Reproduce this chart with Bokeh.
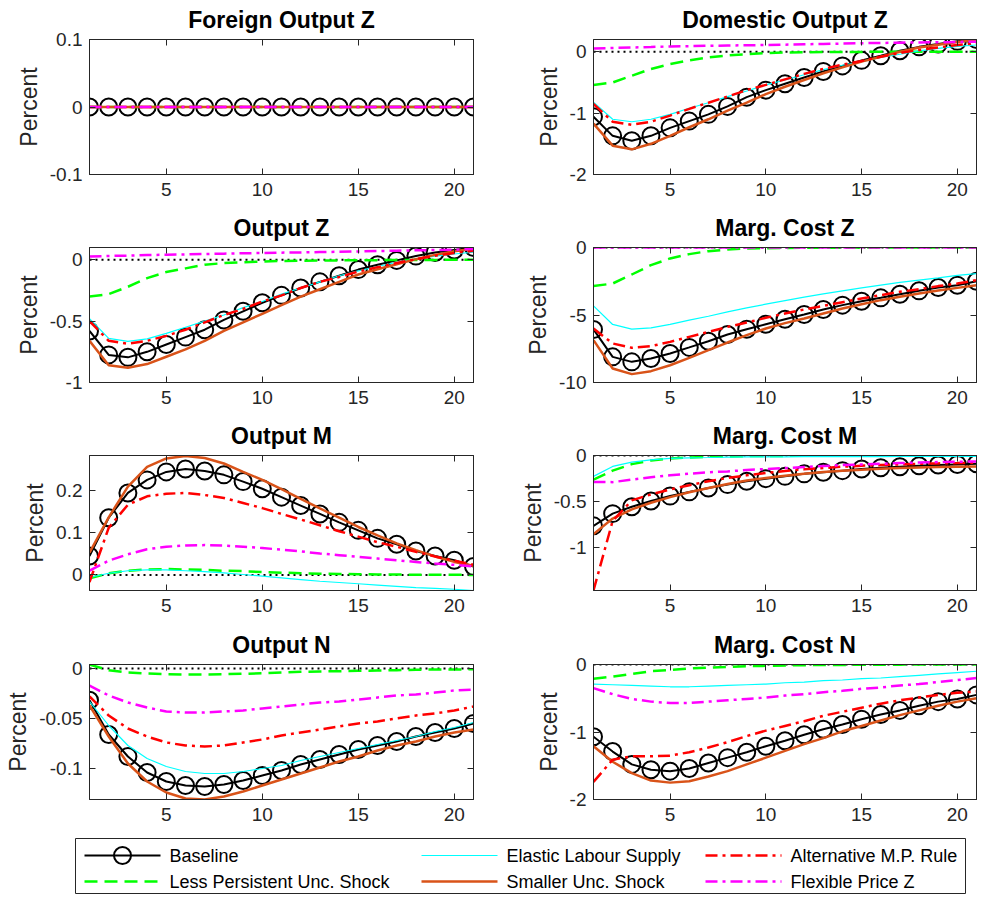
from bokeh.plotting import figure
from bokeh.layouts import column, row
from bokeh.models import Range1d, FixedTicker, LinearAxis, Span, CustomLabelingPolicy
from bokeh.core.properties import value
from bokeh.embed import file_html
from bokeh.resources import INLINE

# ---------------------------------------------------------------- data
horizon = list(range(1, 22))

scenarios = ["Baseline", "Less Persistent Unc. Shock", "Elastic Labour Supply",
             "Smaller Unc. Shock", "Alternative M.P. Rule", "Flexible Price Z"]

# Foreign Output Z: no response in any scenario
foreign_z_all = [0, 0, 0, 0, 0, 0, 0, 0, 0, 0, 0, 0, 0, 0, 0, 0, 0, 0, 0, 0, 0]

# Domestic Output Z
dom_z_base = [-1.06, -1.37, -1.45, -1.37, -1.24, -1.13, -1.02, -0.89, -0.74, -0.625, -0.52,
              -0.42, -0.32, -0.23, -0.14, -0.065, 0.016, 0.08, 0.125, 0.17, 0.2]
dom_z_lessp = [-0.54, -0.50, -0.39, -0.28, -0.2, -0.14, -0.09, -0.06, -0.04, -0.02, -0.012,
               -0.008, -0.005, -0.003, -0.002, -0.001, 0, 0, 0, 0, 0]
dom_z_elastic = [-0.82, -1.10, -1.14, -1.10, -1.02, -0.92, -0.83, -0.73, -0.64, -0.54, -0.46,
                 -0.375, -0.29, -0.22, -0.16, -0.09, -0.04, 0.016, 0.054, 0.087, 0.11]
dom_z_smaller = [-1.17, -1.53, -1.59, -1.5, -1.37, -1.23, -1.10, -0.96, -0.83, -0.69, -0.57,
                 -0.46, -0.35, -0.255, -0.16, -0.08, 0.0, 0.07, 0.115, 0.16, 0.19]
dom_z_altmp = [-0.85, -1.14, -1.19, -1.14, -1.04, -0.93, -0.83, -0.73, -0.625, -0.54, -0.45,
               -0.36, -0.28, -0.21, -0.15, -0.08, -0.02, 0.03, 0.07, 0.11, 0.14]
dom_z_flex = [0.054, 0.062, 0.07, 0.078, 0.087, 0.092, 0.097, 0.102, 0.106, 0.11, 0.116,
              0.122, 0.128, 0.134, 0.14, 0.144, 0.148, 0.152, 0.156, 0.16, 0.165]

# Output Z
out_z_base = [-0.58, -0.775, -0.795, -0.75, -0.69, -0.63, -0.57, -0.49, -0.42, -0.35, -0.29,
              -0.23, -0.18, -0.13, -0.08, -0.04, -0.005, 0.03, 0.06, 0.08, 0.1]
out_z_lessp = [-0.30, -0.28, -0.22, -0.15, -0.1, -0.07, -0.04, -0.027, -0.02, -0.014, -0.01,
               -0.008, -0.006, -0.005, -0.004, -0.003, -0.002, -0.001, -0.001, 0, 0]
out_z_elastic = [-0.48, -0.64, -0.665, -0.645, -0.6, -0.55, -0.5, -0.45, -0.39, -0.34, -0.28,
                 -0.23, -0.18, -0.13, -0.09, -0.055, -0.02, 0.005, 0.03, 0.047, 0.063]
out_z_smaller = [-0.66, -0.86, -0.88, -0.85, -0.79, -0.73, -0.66, -0.58, -0.51, -0.44, -0.37,
                 -0.30, -0.24, -0.18, -0.12, -0.077, -0.036, 0.005, 0.04, 0.07, 0.09]
out_z_altmp = [-0.5, -0.66, -0.685, -0.66, -0.62, -0.57, -0.51, -0.45, -0.40, -0.34, -0.29,
               -0.23, -0.18, -0.14, -0.096, -0.06, -0.027, 0.005, 0.033, 0.055, 0.074]
out_z_flex = [0.027, 0.031, 0.034, 0.038, 0.041, 0.044, 0.047, 0.050, 0.053, 0.055, 0.058,
              0.060, 0.063, 0.065, 0.068, 0.071, 0.074, 0.077, 0.079, 0.082, 0.088]

# Marginal cost Z
mc_z_base = [-6.07, -8.1, -8.47, -8.22, -7.85, -7.4, -6.94, -6.44, -6.05, -5.68, -5.31,
             -4.96, -4.59, -4.27, -3.98, -3.73, -3.46, -3.21, -2.96, -2.79, -2.5]
mc_z_lessp = [-2.86, -2.67, -2.0, -1.31, -0.81, -0.49, -0.27, -0.15, -0.07, -0.05, -0.03,
              -0.02, -0.015, -0.01, -0.008, -0.006, -0.004, -0.003, -0.002, -0.001, 0]
mc_z_elastic = [-4.32, -5.7, -6.05, -5.95, -5.7, -5.38, -5.09, -4.77, -4.47, -4.2, -3.93,
                -3.68, -3.43, -3.21, -2.99, -2.79, -2.59, -2.42, -2.25, -2.07, -1.93]
mc_z_smaller = [-6.86, -8.96, -9.38, -9.16, -8.72, -8.17, -7.6, -7.04, -6.49, -6.0, -5.6,
                -5.26, -4.89, -4.52, -4.2, -3.9, -3.65, -3.41, -3.19, -2.99, -2.79]
mc_z_altmp = [-6.0, -7.11, -7.43, -7.31, -6.99, -6.62, -6.25, -5.88, -5.56, -5.21, -4.89,
              -4.59, -4.32, -4.05, -3.78, -3.53, -3.28, -3.09, -2.86, -2.67, -2.42]
mc_z_flex = [0, 0, 0, 0, 0, 0, 0, 0, 0, 0, 0, 0, 0, 0, 0, 0, 0, 0, 0, 0, 0]

# Output M
out_m_base = [0.045, 0.136, 0.195, 0.226, 0.245, 0.252, 0.247, 0.238, 0.222, 0.205, 0.185,
              0.165, 0.145, 0.125, 0.106, 0.087, 0.073, 0.057, 0.045, 0.035, 0.02]
out_m_lessp = [-0.008, 0.004, 0.01, 0.013, 0.014, 0.013, 0.012, 0.01, 0.009, 0.007, 0.0055,
               0.004, 0.003, 0.0025, 0.0017, 0.0012, 0.0009, 0.0006, 0.0004, 0.0002, 0.0001]
out_m_elastic = [-0.006, 0.004, 0.01, 0.012, 0.012, 0.01, 0.008, 0.005, 0.001, -0.003, -0.007,
                 -0.011, -0.015, -0.018, -0.021, -0.024, -0.027, -0.03, -0.032, -0.034, -0.037]
out_m_smaller = [0.053, 0.137, 0.21, 0.257, 0.277, 0.283, 0.278, 0.265, 0.245, 0.226, 0.204,
                 0.181, 0.158, 0.136, 0.114, 0.094, 0.075, 0.059, 0.044, 0.031, 0.022]
out_m_altmp = [-0.017, 0.112, 0.167, 0.187, 0.193, 0.195, 0.19, 0.183, 0.171, 0.159, 0.145,
               0.132, 0.118, 0.104, 0.091, 0.078, 0.067, 0.055, 0.044, 0.034, 0.024]
out_m_flex = [0.01, 0.034, 0.049, 0.061, 0.067, 0.07, 0.071, 0.07, 0.067, 0.064, 0.06,
              0.056, 0.051, 0.047, 0.043, 0.039, 0.035, 0.031, 0.027, 0.024, 0.02]

# Marginal cost M
mc_m_base = [-0.766, -0.633, -0.558, -0.496, -0.442, -0.396, -0.353, -0.317, -0.28, -0.252, -0.227,
             -0.2, -0.183, -0.165, -0.147, -0.133, -0.122, -0.111, -0.104, -0.097, -0.09]
mc_m_lessp = [-0.263, -0.165, -0.094, -0.054, -0.032, -0.022, -0.014, -0.011, -0.007, -0.005, -0.004,
              -0.003, -0.002, -0.002, -0.001, -0.001, -0.001, 0, 0, 0, 0]
mc_m_elastic = [-0.227, -0.119, -0.072, -0.047, -0.032, -0.025, -0.022, -0.018, -0.016, -0.015, -0.014,
                -0.013, -0.013, -0.012, -0.012, -0.012, -0.011, -0.011, -0.011, -0.011, -0.011]
mc_m_smaller = [-0.856, -0.687, -0.586, -0.514, -0.453, -0.4, -0.353, -0.31, -0.273, -0.245, -0.22,
                -0.198, -0.18, -0.165, -0.155, -0.144, -0.137, -0.13, -0.126, -0.122, -0.119]
mc_m_altmp = [-1.47, -0.712, -0.489, -0.424, -0.37, -0.324, -0.28, -0.245, -0.216, -0.19, -0.169,
              -0.151, -0.137, -0.122, -0.111, -0.104, -0.097, -0.09, -0.086, -0.083, -0.079]
mc_m_flex = [-0.288, -0.29, -0.263, -0.237, -0.216, -0.198, -0.183, -0.173, -0.158, -0.147, -0.137,
             -0.126, -0.115, -0.104, -0.097, -0.09, -0.083, -0.076, -0.072, -0.068, -0.065]

# Output N
out_n_base = [-0.0317, -0.066, -0.088, -0.104, -0.113, -0.117, -0.118, -0.116, -0.112, -0.107, -0.102,
              -0.096, -0.091, -0.086, -0.081, -0.077, -0.073, -0.068, -0.064, -0.06, -0.055]
out_n_lessp = [0.004, -0.0017, -0.004, -0.005, -0.0057, -0.006, -0.006, -0.0057, -0.0053, -0.0047, -0.004,
               -0.0033, -0.003, -0.0027, -0.0023, -0.002, -0.0017, -0.0013, -0.001, -0.001, -0.0007]
out_n_elastic = [-0.033, -0.057, -0.077, -0.09, -0.098, -0.103, -0.105, -0.105, -0.103, -0.1, -0.097,
                 -0.092, -0.088, -0.084, -0.08, -0.076, -0.072, -0.068, -0.063, -0.059, -0.054]
out_n_smaller = [-0.037, -0.068, -0.095, -0.113, -0.124, -0.13, -0.131, -0.128, -0.123, -0.117, -0.111,
                 -0.105, -0.099, -0.093, -0.088, -0.082, -0.077, -0.073, -0.068, -0.064, -0.061]
out_n_altmp = [-0.028, -0.047, -0.06, -0.068, -0.074, -0.077, -0.078, -0.077, -0.074, -0.071, -0.067,
               -0.064, -0.061, -0.058, -0.055, -0.053, -0.05, -0.047, -0.045, -0.042, -0.038]
out_n_flex = [-0.017, -0.027, -0.034, -0.039, -0.043, -0.044, -0.044, -0.043, -0.042, -0.04, -0.038,
              -0.036, -0.034, -0.033, -0.031, -0.029, -0.027, -0.026, -0.024, -0.022, -0.021]

# Marginal cost N
mc_n_base = [-1.07, -1.29, -1.48, -1.56, -1.58, -1.54, -1.46, -1.38, -1.30, -1.21, -1.13,
             -1.04, -0.96, -0.89, -0.81, -0.74, -0.68, -0.61, -0.55, -0.51, -0.45]
mc_n_lessp = [-0.21, -0.18, -0.14, -0.10, -0.08, -0.06, -0.045, -0.035, -0.025, -0.02, -0.015,
              -0.01, -0.008, -0.006, -0.004, -0.003, -0.002, -0.001, -0.001, 0, 0]
mc_n_elastic = [-0.29, -0.30, -0.31, -0.32, -0.33, -0.33, -0.32, -0.31, -0.30, -0.29, -0.27,
                -0.26, -0.24, -0.23, -0.21, -0.20, -0.18, -0.16, -0.14, -0.12, -0.10]
mc_n_smaller = [-1.21, -1.44, -1.61, -1.72, -1.75, -1.73, -1.66, -1.58, -1.48, -1.38, -1.28,
                -1.18, -1.09, -0.99, -0.91, -0.83, -0.75, -0.68, -0.61, -0.55, -0.5]
mc_n_altmp = [-1.74, -1.41, -1.36, -1.36, -1.35, -1.30, -1.23, -1.15, -1.06, -0.98, -0.91,
              -0.84, -0.76, -0.70, -0.64, -0.58, -0.53, -0.49, -0.45, -0.42, -0.40]
mc_n_flex = [-0.35, -0.44, -0.51, -0.55, -0.57, -0.57, -0.55, -0.53, -0.51, -0.49, -0.46,
             -0.44, -0.41, -0.39, -0.36, -0.34, -0.31, -0.29, -0.26, -0.23, -0.2]

# tick values and their labels for each panel's vertical axis
foreign_z_ticks, foreign_z_labels = [-0.1, 0, 0.1], ["-0.1", "0", "0.1"]
dom_z_ticks, dom_z_labels = [-2, -1, 0], ["-2", "-1", "0"]
out_z_ticks, out_z_labels = [-1, -0.5, 0], ["-1", "-0.5", "0"]
mc_z_ticks, mc_z_labels = [-10, -5, 0], ["-10", "-5", "0"]
out_m_ticks, out_m_labels = [0, 0.1, 0.2], ["0", "0.1", "0.2"]
mc_m_ticks, mc_m_labels = [-1, -0.5, 0], ["-1", "-0.5", "0"]
out_n_ticks, out_n_labels = [-0.1, -0.05, 0], ["-0.1", "-0.05", "0"]
mc_n_ticks, mc_n_labels = [-2, -1, 0], ["-2", "-1", "0"]
x_ticks, x_labels = [5, 10, 15, 20], ["5", "10", "15", "20"]

panels = [
    ("Foreign Output Z", [foreign_z_all] * 6, (-0.1, 0.1), foreign_z_ticks, foreign_z_labels),
    ("Domestic Output Z", [dom_z_base, dom_z_lessp, dom_z_elastic, dom_z_smaller, dom_z_altmp, dom_z_flex],
     (-2, 0.2), dom_z_ticks, dom_z_labels),
    ("Output Z", [out_z_base, out_z_lessp, out_z_elastic, out_z_smaller, out_z_altmp, out_z_flex],
     (-1, 0.1), out_z_ticks, out_z_labels),
    ("Marg. Cost Z", [mc_z_base, mc_z_lessp, mc_z_elastic, mc_z_smaller, mc_z_altmp, mc_z_flex],
     (-10, 0), mc_z_ticks, mc_z_labels),
    ("Output M", [out_m_base, out_m_lessp, out_m_elastic, out_m_smaller, out_m_altmp, out_m_flex],
     (-0.037, 0.284), out_m_ticks, out_m_labels),
    ("Marg. Cost M", [mc_m_base, mc_m_lessp, mc_m_elastic, mc_m_smaller, mc_m_altmp, mc_m_flex],
     (-1.47, 0), mc_m_ticks, mc_m_labels),
    ("Output N", [out_n_base, out_n_lessp, out_n_elastic, out_n_smaller, out_n_altmp, out_n_flex],
     (-0.131, 0.004), out_n_ticks, out_n_labels),
    ("Marg. Cost N", [mc_n_base, mc_n_lessp, mc_n_elastic, mc_n_smaller, mc_n_altmp, mc_n_flex],
     (-2, 0), mc_n_ticks, mc_n_labels),
]

# ---------------------------------------------------------------- styles
FONT = "Liberation Sans"
AXIS_COLOR = "#262626"

line_styles = [
    dict(line_color="black", line_width=2, line_dash="solid"),
    dict(line_color="#00FF00", line_width=2.5, line_dash="13 7"),
    dict(line_color="#00FFFF", line_width=1.2, line_dash="solid"),
    dict(line_color="#D95319", line_width=2.5, line_dash="solid"),
    dict(line_color="#FF0000", line_width=2.5, line_dash="12 5 3 5"),
    dict(line_color="#FF00FF", line_width=2.5, line_dash="12 5 3 5"),
]
MARKER_SIZE = 17

# secondary (box) axes carry tick marks only: drop every label before drawing
NO_LABELS = CustomLabelingPolicy(code="""
for (const i of indices) { indices.unset(i) }
return indices
""")


def style_axis(ax, ticks, labels, show_labels=True):
    ax.ticker = FixedTicker(ticks=ticks)
    ax.major_tick_in = 6
    ax.major_tick_out = 0
    ax.minor_tick_in = 0
    ax.minor_tick_out = 0
    ax.axis_line_color = AXIS_COLOR
    ax.major_tick_line_color = AXIS_COLOR
    ax.major_label_text_color = AXIS_COLOR
    ax.major_label_text_font = FONT
    if show_labels:
        ax.major_label_text_font_size = "19px"
        ax.major_label_overrides = {t: s for t, s in zip(ticks, labels)}
    else:
        ax.major_label_text_font_size = "1px"
        ax.major_label_standoff = 0
        ax.major_label_policy = NO_LABELS


def make_panel(title, series, ylim, yticks, ylabels, left_col, top_border):
    if left_col:
        width, b_left, b_right = 490, 89, 17
    else:
        width, b_left, b_right = 494, 103, 8
    p = figure(width=width, height=208, x_range=Range1d(1, 21), y_range=Range1d(*ylim),
               toolbar_location=None, output_backend="svg",
               min_border_left=b_left, min_border_right=b_right,
               min_border_top=top_border, min_border_bottom=208 - 135 - top_border)
    p.background_fill_color = "white"
    p.border_fill_color = "white"
    p.outline_line_color = AXIS_COLOR
    p.xgrid.visible = False
    p.ygrid.visible = False

    p.title.text = title
    p.title.align = "center"
    p.title.text_font = FONT
    p.title.text_font_size = "23px"
    p.title.text_font_style = "bold"
    p.title.text_color = "black"
    p.title.standoff = 6

    style_axis(p.xaxis[0], x_ticks, x_labels)
    p.xaxis[0].major_label_standoff = 8
    style_axis(p.yaxis[0], yticks, ylabels)
    p.yaxis[0].major_label_standoff = 7
    p.yaxis[0].axis_label = "Percent"
    p.yaxis[0].axis_label_text_font = FONT
    p.yaxis[0].axis_label_text_font_size = "23px"
    p.yaxis[0].axis_label_text_font_style = "normal"
    p.yaxis[0].axis_label_text_color = AXIS_COLOR
    p.yaxis[0].axis_label_standoff = 5

    top_ax = LinearAxis()
    style_axis(top_ax, x_ticks, x_labels, show_labels=False)
    p.add_layout(top_ax, "above")
    right_ax = LinearAxis()
    style_axis(right_ax, yticks, ylabels, show_labels=False)
    p.add_layout(right_ax, "right")

    p.add_layout(Span(location=0, dimension="width", line_color="black",
                      line_width=2, line_dash="2 4", level="underlay"))

    for k, ys in enumerate(series):
        p.line(horizon, ys, **line_styles[k])
        if k == 0:
            p.scatter(horizon, ys, marker="circle", size=MARKER_SIZE, fill_color=None,
                      line_color="black", line_width=2)
    return p


tops = [39, 39, 39, 39, 39, 39, 40, 40]
plots = [make_panel(t, s, yl, yt, ytl, i % 2 == 0, tops[i])
         for i, (t, s, yl, yt, ytl) in enumerate(panels)]

# ---------------------------------------------------------------- legend strip
leg = figure(width=984, height=65, x_range=Range1d(0, 984), y_range=Range1d(65, 0),
             toolbar_location=None, output_backend="svg", min_border=0,
             x_axis_location=None, y_axis_location=None)
leg.xgrid.visible = False
leg.ygrid.visible = False
leg.outline_line_color = None
leg.quad(left=75, right=965, top=6, bottom=61, fill_color="white",
         line_color=AXIS_COLOR, line_width=1)

col_x = [84, 421, 705]
row_y = [23, 49]
SAMPLE_LEN = 76
for k, name in enumerate(scenarios):
    x0 = col_x[k // 2]
    y0 = row_y[k % 2]
    leg.line([x0, x0 + SAMPLE_LEN], [y0, y0], **line_styles[k])
    if k == 0:
        leg.scatter([x0 + SAMPLE_LEN / 2], [y0], marker="circle", size=MARKER_SIZE,
                    fill_color=None, line_color="black", line_width=2)
    leg.text([x0 + SAMPLE_LEN + 9], [y0], text=[name], text_font=value(FONT),
             text_font_size="18px", text_baseline="middle", text_align="left",
             text_color="black")

layout = column(row(plots[0], plots[1]), row(plots[2], plots[3]),
                row(plots[4], plots[5]), row(plots[6], plots[7]), leg)

open("out.html", "w").write(file_html(layout, INLINE))
